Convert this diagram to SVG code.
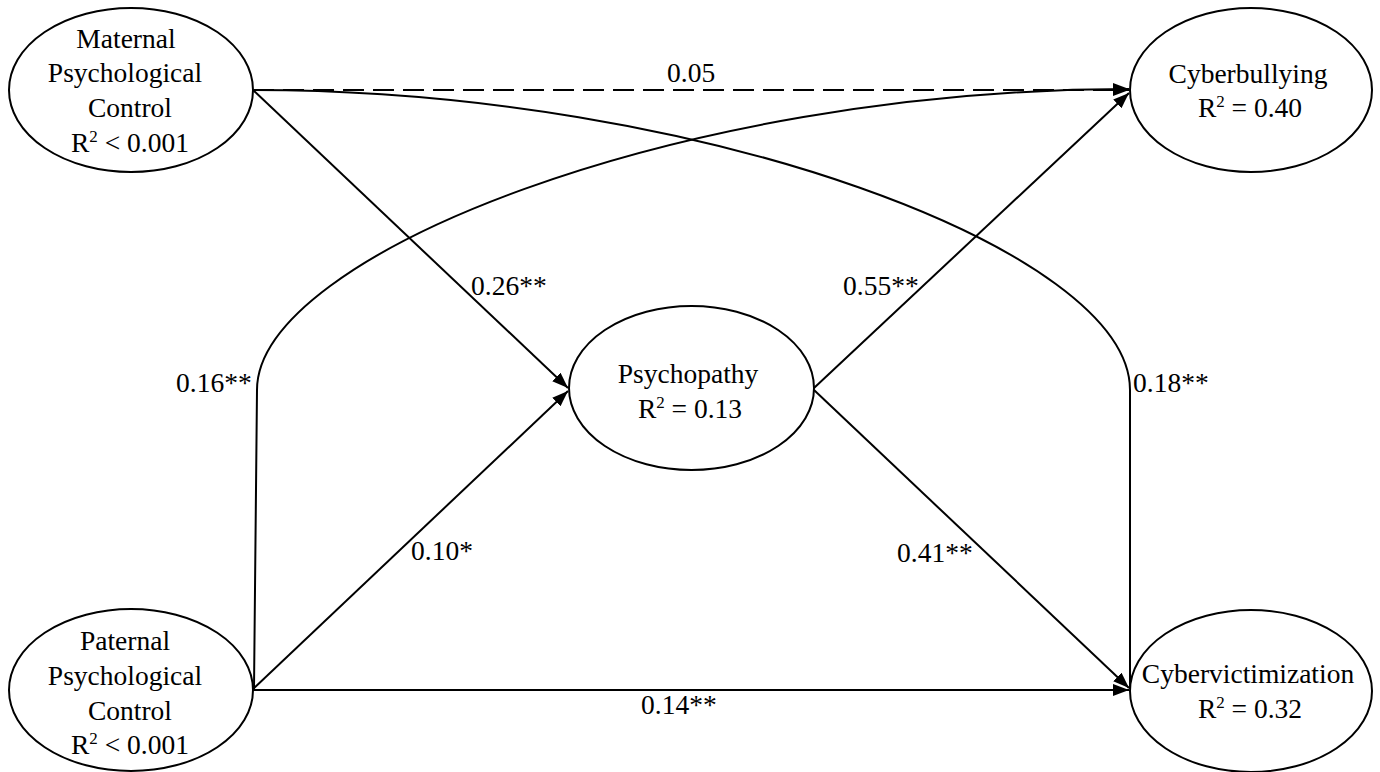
<svg xmlns="http://www.w3.org/2000/svg" width="1380" height="772" viewBox="0 0 1380 772">
<defs>
<style>
.node{fill:#fff;stroke:#000;stroke-width:2}
.t{font-family:"Liberation Serif","Times New Roman",serif;font-size:27.5px;fill:#000;text-anchor:middle}
.lbl{font-family:"Liberation Serif","Times New Roman",serif;font-size:27.5px;fill:#000}
.c{fill:none;stroke:#000;stroke-width:2}
.d{stroke-dasharray:21 9}
.sup{font-size:17px}
</style>
<marker id="ah" markerUnits="userSpaceOnUse" markerWidth="17" markerHeight="13" refX="16" refY="6" orient="auto">
<path d="M0,0 L16,6 L0,12 z" fill="#000"/>
</marker>
</defs>
<rect width="1380" height="772" fill="#fff"/>
<g id="connectors">
<path class="c d" d="M253,90 L1129,90" marker-end="url(#ah)"/>
<path class="c" d="M253,90 L568,388" marker-end="url(#ah)"/>
<path class="c" d="M253,689 L568,391" marker-end="url(#ah)"/>
<path class="c" d="M253,690 L1129,690" marker-end="url(#ah)"/>
<path class="c" d="M814,388 L1129,93" marker-end="url(#ah)"/>
<path class="c" d="M814,390 L1129,688" marker-end="url(#ah)"/>
<path class="c" d="M253,90 C700,90 1130,250 1130,390 L1130,689"/>
<path class="c" d="M254,689 L257,390 C257,255 680,89 1129,89" marker-end="url(#ah)"/>
<text class="lbl" x="667" y="82">0.05</text>
<text class="lbl" x="471" y="295">0.26**</text>
<text class="lbl" x="843" y="295">0.55**</text>
<text class="lbl" x="176" y="392">0.16**</text>
<text class="lbl" x="1133" y="392">0.18**</text>
<text class="lbl" x="411" y="560">0.10*</text>
<text class="lbl" x="897" y="562">0.41**</text>
<text class="lbl" x="641" y="714">0.14**</text>
</g>
<g id="maternal">
<ellipse class="node" cx="131" cy="90" rx="122" ry="82"/>
<text class="t" x="126" y="48">Maternal</text>
<text class="t" x="125" y="82">Psychological</text>
<text class="t" x="130" y="117">Control</text>
<text class="t" x="130" y="152">R<tspan class="sup" dy="-10">2</tspan><tspan dy="10"> &lt; 0.001</tspan></text>
</g>
<g id="paternal">
<ellipse class="node" cx="131" cy="690" rx="122" ry="81"/>
<text class="t" x="125" y="650">Paternal</text>
<text class="t" x="125" y="685">Psychological</text>
<text class="t" x="130" y="720">Control</text>
<text class="t" x="130" y="754">R<tspan class="sup" dy="-10">2</tspan><tspan dy="10"> &lt; 0.001</tspan></text>
</g>
<g id="psychopathy">
<ellipse class="node" cx="691.5" cy="388" rx="122.5" ry="82"/>
<text class="t" x="688" y="383">Psychopathy</text>
<text class="t" x="690" y="418">R<tspan class="sup" dy="-10">2</tspan><tspan dy="10"> = 0.13</tspan></text>
</g>
<g id="cyberbullying">
<ellipse class="node" cx="1251" cy="90" rx="121" ry="82"/>
<text class="t" x="1248" y="83">Cyberbullying</text>
<text class="t" x="1250" y="117">R<tspan class="sup" dy="-10">2</tspan><tspan dy="10"> = 0.40</tspan></text>
</g>
<g id="cybervictimization">
<ellipse class="node" cx="1251" cy="691" rx="121" ry="81"/>
<text class="t" x="1248" y="683">Cybervictimization</text>
<text class="t" x="1250" y="718">R<tspan class="sup" dy="-10">2</tspan><tspan dy="10"> = 0.32</tspan></text>
</g>
</svg>
